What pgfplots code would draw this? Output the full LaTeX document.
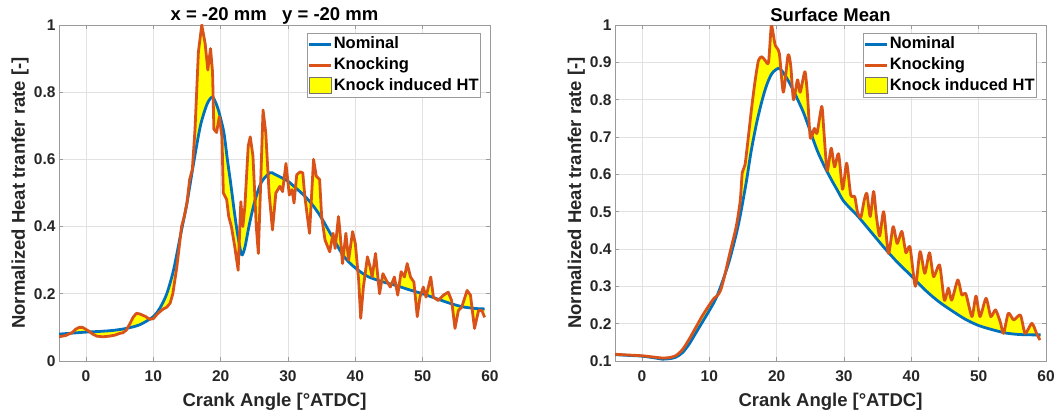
\documentclass[border=0pt]{standalone}
\usepackage{fontspec}
\setmainfont{Liberation Sans}
\usepackage{pgfplots}
\pgfplotsset{compat=1.18}
\usepgfplotslibrary{fillbetween}
\definecolor{mblue}{RGB}{0,114,189}
\definecolor{morange}{RGB}{217,83,25}
\definecolor{txt}{RGB}{38,38,38}
\definecolor{gridc}{RGB}{225,225,225}
\definecolor{axc}{RGB}{155,155,155}
\definecolor{myyellow}{RGB}{255,255,0}
\pgfplotsset{
 myax/.style={
  set layers, scale only axis, width=431pt, height=336pt,
  xmin=-4, xmax=60, xtick={0,10,20,30,40,50,60}, xticklabels={0,10,20,30,40,50,60},
  grid=major, major grid style={gridc, line width=0.6pt},
  axis line style={axc, line width=0.8pt},
  tick style={axc, line width=0.8pt}, major tick length=4pt, tick align=inside,
  /pgf/number format/assume math mode=true,
  ticklabel style={font=\fontsize{15.5}{18}\selectfont\bfseries, text=txt},
  xticklabel style={yshift=-6pt},
  xlabel={Crank Angle [°ATDC]},
  ylabel={Normalized Heat tranfer rate [-]},
  every axis x label/.style={at={(axis description cs:0.5,-0.1369)}, anchor=base, font=\fontsize{18.5}{22}\selectfont\bfseries, text=txt},
  every axis y label/.style={at={(axis description cs:-0.0789,0.5)}, anchor=base, rotate=90, font=\fontsize{18.5}{22}\selectfont\bfseries, text=txt},
  every axis title/.style={at={(axis description cs:0.5,1.0119)}, anchor=base, font=\fontsize{18.5}{22}\selectfont\bfseries, text=black},
  legend cell align=left,
  legend style={at={(rel axis cs:1,1)}, anchor=north east, xshift=-9pt, yshift=-8pt,
    draw=axc, line width=0.8pt, fill=white, font=\fontsize{16.5}{19}\selectfont\bfseries,
    inner xsep=1pt, inner ysep=2pt, row sep=3.5pt,
    nodes={inner sep=1pt, text height=12pt, text depth=3.5pt}},
 },
 nomstyle/.style={mblue, line width=2.8pt},
 knockstyle/.style={morange, line width=2.8pt, line join=round},
}
\begin{document}
\begin{tikzpicture}
% ---------------- left ----------------
\begin{axis}[myax, at={(0pt,0pt)}, anchor=south west,
  ymin=0, ymax=1, ytick={0,0.2,0.4,0.6,0.8,1}, yticklabels={0,0.2,0.4,0.6,0.8,1},
  title={x = -20 mm~~~y = -20 mm}]
\addplot[nomstyle, smooth, name path=nomL,
  legend image code/.code={\draw[mblue, line width=2.8pt] (0pt,0pt) -- (22pt,0pt);}] coordinates {
(-4,0.080) (-2,0.083) (0,0.086) (2,0.088) (4,0.091) (6,0.097) (8,0.108) (10,0.132)
(11,0.158) (12,0.200) (13,0.270) (14,0.370) (15,0.470) (16,0.590) (17,0.700) (18,0.765)
(18.8,0.785) (19.5,0.757) (20,0.722) (20.5,0.678) (21,0.600) (21.5,0.528) (22,0.450)
(22.5,0.380) (23.1,0.317) (23.6,0.338) (24.2,0.400) (25,0.470) (26,0.530) (27.3,0.560)
(28,0.556) (29,0.546) (30,0.535) (31,0.518) (32,0.500) (33,0.480) (34,0.455) (35,0.425)
(36,0.390) (37,0.355) (38,0.320) (39,0.295) (40,0.277) (41,0.262) (42,0.250) (44,0.236)
(46,0.225) (48,0.212) (50,0.200) (52,0.186) (54,0.172) (56,0.161) (58,0.156) (59.2,0.155)
};
\addplot[knockstyle, name path=knockL,
  legend image code/.code={\draw[morange, line width=2.8pt] (0pt,0pt) -- (22pt,0pt);}] coordinates {
(-4,0.072) (-3,0.076) (-2,0.085) (-1.5,0.095) (-1,0.100) (-0.5,0.100) (0,0.094) (0.5,0.088)
(1,0.080) (1.6,0.074) (2.5,0.072) (3.5,0.074) (4.3,0.077) (5,0.082) (5.5,0.084) (6,0.092)
(6.5,0.110) (7,0.130) (7.5,0.142) (8,0.140) (8.8,0.133) (9.5,0.124) (10,0.126) (10.7,0.142)
(11.5,0.155) (12,0.160) (12.5,0.172) (12.9,0.200) (13.5,0.280) (14.2,0.400) (14.6,0.430)
(15,0.470) (15.4,0.540) (15.8,0.570) (16.2,0.690) (16.7,0.920) (17.2,1.000) (17.7,0.945)
(18.1,0.866) (18.5,0.930) (18.8,0.860) (19.0,0.690) (19.4,0.680) (19.8,0.727) (20.2,0.667)
(20.4,0.500) (20.9,0.480) (21.2,0.430) (21.6,0.400) (22.1,0.340) (22.6,0.270) (23.0,0.474)
(23.3,0.400) (23.6,0.460) (24.1,0.640) (24.4,0.667) (24.8,0.610) (25.3,0.400) (25.6,0.320)
(25.9,0.500) (26.3,0.747) (26.7,0.680) (27.2,0.500) (27.7,0.390) (28.2,0.500) (28.8,0.520)
(29.2,0.504) (29.7,0.588) (30.2,0.494) (30.6,0.510) (30.9,0.470) (31.3,0.554) (31.8,0.563)
(32.2,0.560) (32.5,0.490) (33.2,0.380) (33.8,0.600) (34.2,0.550) (34.7,0.540) (35.0,0.430)
(35.5,0.360) (36.2,0.325) (36.7,0.380) (37.0,0.335) (37.5,0.430) (37.7,0.390) (38.1,0.290)
(38.6,0.380) (39.0,0.300) (39.6,0.385) (40.0,0.350) (40.5,0.240) (40.8,0.127) (41.2,0.220)
(41.8,0.310) (42.2,0.280) (42.5,0.250) (43.0,0.320) (43.6,0.200) (44.1,0.260) (44.6,0.240)
(45.2,0.220) (45.8,0.250) (46.3,0.196) (46.8,0.266) (47.3,0.250) (47.7,0.290) (48.2,0.250)
(48.7,0.235) (49.2,0.132) (49.6,0.190) (50.1,0.220) (50.5,0.190) (51.2,0.250) (51.6,0.190)
(52.3,0.180) (53.1,0.196) (53.8,0.205) (54.3,0.180) (54.8,0.097) (55.3,0.150) (55.8,0.160)
(56.6,0.210) (57.1,0.196) (57.7,0.097) (58.3,0.150) (58.8,0.150) (59.2,0.130)
};
\addplot[fill=myyellow, draw=none,
  legend image code/.code={\draw[fill=myyellow, draw=black!55, line width=0.6pt] (0pt,-7pt) rectangle (22pt,9pt);}]
  fill between[of=knockL and nomL];
\legend{Nominal, Knocking, Knock induced HT}
\end{axis}
% ---------------- right ----------------
\begin{axis}[myax, at={(556pt,0pt)}, anchor=south west,
  ymin=0.1, ymax=1, ytick={0.1,0.2,0.3,0.4,0.5,0.6,0.7,0.8,0.9,1},
  yticklabels={0.1,0.2,0.3,0.4,0.5,0.6,0.7,0.8,0.9,1},
  title={Surface Mean}]
\addplot[nomstyle, smooth, name path=nomR,
  legend image code/.code={\draw[mblue, line width=2.8pt] (0pt,0pt) -- (22pt,0pt);}] coordinates {
(-4,0.117) (-2,0.115) (0,0.113) (2,0.108) (3,0.105) (4,0.106) (5,0.110) (6,0.122) (7,0.145)
(8,0.175) (9,0.205) (10,0.235) (11,0.268) (12,0.315) (13,0.370) (14,0.440) (14.6,0.490)
(15.5,0.580) (16.2,0.660) (17,0.735) (17.8,0.795) (18.5,0.838) (19.3,0.870) (20.3,0.884)
(21,0.872) (22,0.842) (23,0.805) (24,0.765) (25,0.715) (26,0.665) (27,0.625) (28,0.590)
(29,0.558) (30,0.527) (32,0.489) (34,0.446) (36,0.403) (38,0.363) (40,0.328) (42,0.291)
(44,0.260) (46,0.235) (48,0.212) (50,0.195) (52,0.184) (54,0.175) (56,0.171) (58,0.170)
(59.2,0.170)
};
\addplot[knockstyle, smooth, tension=0.4, name path=knockR,
  legend image code/.code={\draw[morange, line width=2.8pt] (0pt,0pt) -- (22pt,0pt);}] coordinates {
(-4,0.118) (-2,0.116) (0,0.114) (2,0.110) (3,0.108) (4,0.109) (5,0.114) (6,0.130) (7,0.158)
(8,0.190) (9,0.222) (10,0.250) (10.7,0.268) (11.2,0.275) (11.7,0.290) (12.3,0.330) (13,0.385)
(14,0.460) (14.6,0.530) (14.9,0.605) (15.3,0.625) (15.8,0.700) (16.3,0.780) (16.8,0.850)
(17.3,0.905) (17.8,0.915) (18.3,0.905) (18.8,0.900) (19.2,0.997) (19.5,0.975) (19.8,0.945)
(20.4,0.924) (21.0,0.820) (21.7,0.920) (22.1,0.890) (22.5,0.800) (23.1,0.853) (23.5,0.820)
(24.2,0.875) (24.6,0.808) (25.0,0.697) (25.6,0.723) (26.0,0.710) (26.7,0.782) (27.0,0.720)
(27.5,0.610) (28.1,0.670) (28.6,0.620) (29.2,0.655) (29.8,0.560) (30.4,0.630) (31.0,0.545)
(31.6,0.540) (32.0,0.500) (32.5,0.485) (33.0,0.530) (33.4,0.549) (33.9,0.487) (34.4,0.554)
(34.8,0.490) (35.3,0.435) (35.9,0.500) (36.6,0.388) (37.3,0.460) (37.9,0.415) (38.6,0.447)
(39.2,0.390) (39.8,0.406) (40.6,0.300) (41.3,0.393) (42.0,0.335) (42.7,0.390) (43.3,0.326)
(44.2,0.357) (44.9,0.263) (45.5,0.295) (46.0,0.263) (46.9,0.317) (47.5,0.277) (48.1,0.280)
(49.0,0.219) (49.6,0.274) (50.2,0.219) (51.1,0.268) (51.8,0.219) (52.5,0.237) (53.2,0.205)
(53.7,0.174) (54.4,0.228) (55.2,0.210) (56.2,0.223) (56.9,0.174) (57.9,0.201) (58.6,0.174)
(59.1,0.156)
};
\addplot[fill=myyellow, draw=none,
  legend image code/.code={\draw[fill=myyellow, draw=black!55, line width=0.6pt] (0pt,-7pt) rectangle (22pt,9pt);}]
  fill between[of=knockR and nomR];
\legend{Nominal, Knocking, Knock induced HT}
\end{axis}
\pgfresetboundingbox
\path[use as bounding box] (-59pt,-53pt) rectangle (998pt,361pt);
\end{tikzpicture}
\end{document}
